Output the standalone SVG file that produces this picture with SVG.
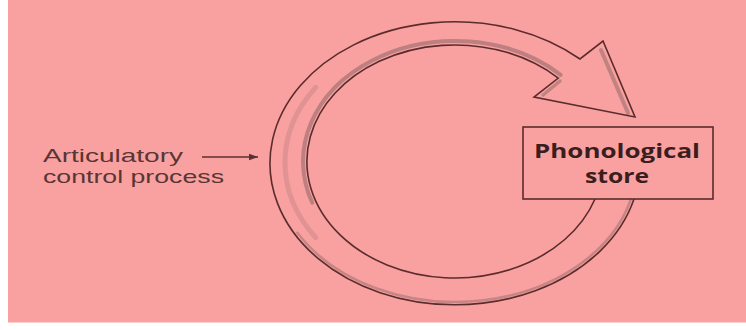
<svg xmlns="http://www.w3.org/2000/svg" width="746" height="330" viewBox="0 0 746 330">
  <defs>
    <marker id="ah" markerWidth="10" markerHeight="8" refX="9" refY="4" orient="auto" markerUnits="userSpaceOnUse">
      <path d="M0,0.8 L9,4 L0,7.2 Z" fill="#5a3030"/>
    </marker>
  </defs>
  <style>
    .outline { fill: none; stroke: #5a2c2c; stroke-width: 1.6; stroke-linejoin: miter; }
    .shade { fill: none; stroke: #8c6464; stroke-linecap: round; }
    .label { font-family: "Liberation Sans", "Open Sans", sans-serif; font-size: 18.5px; fill: #5a3535; }
    .bold { font-family: "Open Sans", "Liberation Sans", sans-serif; font-size: 20px; font-weight: bold; fill: #3a1e1e; }
  </style>
  <rect x="0" y="0" width="746" height="330" fill="#ffffff"/>
  <rect x="8" y="0" width="738" height="322.5" fill="#f9a1a0"/>

  <g id="loop-arrow">
    <!-- shading -->
    <path class="shade" d="M 312.2,202.7 A 152 120.5 0 0 1 560.6,74.8" stroke-width="4" opacity="0.55"/>
    <path class="shade" d="M 560,81 L 543,95" stroke-width="3.5" opacity="0.5"/>
    <path class="shade" d="M 601,50 L 628,113" stroke-width="4" opacity="0.5"/>
    <path class="shade" d="M 633,192.3 A 182 138.5 0 0 1 297.4,232.8" stroke-width="2.5" opacity="0.45"/>
    <path class="shade" d="M 315.8,237.7 A 170 131 0 0 1 315.8,87.3" stroke-width="5" opacity="0.22"/>
    <!-- outline -->
    <path class="outline" d="M 634,199 A 185 141.5 0 1 1 580,59 L 603,41 L 635,117 L 534,97 L 558.3,78.1 A 148 116.5 0 1 0 595,199"/>
  </g>

  <g id="connectors">
    <line x1="202" y1="157" x2="258" y2="157" stroke="#5a3030" stroke-width="1.3" marker-end="url(#ah)"/>
  </g>

  <g id="articulatory-label">
    <text class="label" x="43" y="162" textLength="140" lengthAdjust="spacingAndGlyphs">Articulatory</text>
    <text class="label" x="43" y="183" textLength="181" lengthAdjust="spacingAndGlyphs">control process</text>
  </g>

  <g id="phonological-store">
    <rect x="523" y="127" width="190" height="72" fill="#f9a1a0" stroke="#5a2c2c" stroke-width="1.6"/>
    <text class="bold" x="534" y="158" textLength="166" lengthAdjust="spacingAndGlyphs">Phonological</text>
    <text class="bold" x="585" y="183" textLength="64" lengthAdjust="spacingAndGlyphs">store</text>
  </g>
</svg>
